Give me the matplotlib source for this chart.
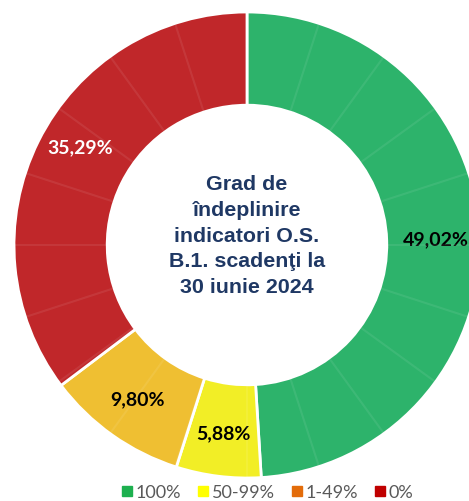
import matplotlib.pyplot as plt
from matplotlib.lines import Line2D
import numpy as np

# share of indicators per completion class
categories = ['100%', '50-99%', '1-49%', '0%']
shares = [49.02, 5.88, 9.80, 35.29]
wedge_colors = ['#2DB36B', '#F2EE26', '#EFBF32', '#C0272A']
legend_colors = ['#1DB04F', '#FFFF00', '#E36C0A', '#C00000']
label_colors = ['black', 'black', 'black', 'white']
title = 'Grad de\nîndeplinire\nindicatori O.S.\nB.1. scadenţi la\n30 iunie 2024'
n_ticks = 20  # faint separators round the ring

fig = plt.figure(figsize=(4.69, 5.02), dpi=100)
ax = fig.add_axes([0, 0, 1, 1])

cx, cy, R = 247, 502 - 246, 233
wedges, texts, autotexts = ax.pie(
    shares, colors=wedge_colors, startangle=90, counterclock=False,
    center=(cx, cy), radius=R, pctdistance=0.81,
    autopct=lambda p: f'{p:.2f}%'.replace('.', ','),
    wedgeprops=dict(width=R * 0.4, edgecolor='white', linewidth=2),
    textprops=dict(fontsize=14, fontweight='bold', family='Lato'))
for t, c in zip(autotexts, label_colors):
    t.set_color(c)
# the red label sits a bit higher in the original
x, y = autotexts[3].get_position()
autotexts[3].set_position((x + 2, y + 14))

# thin lighter separators every 18 degrees
for a in np.linspace(0, 2 * np.pi, n_ticks, endpoint=False):
    dx, dy = np.sin(a), np.cos(a)
    ax.plot([cx + 0.6 * R * dx, cx + R * dx], [cy + 0.6 * R * dy, cy + R * dy],
            color='white', alpha=0.08, lw=1.5, zorder=3)

ax.text(cx, 502 - 236, title, ha='center', va='center', fontsize=15.4,
        fontweight='bold', color='#1F3864', family='Liberation Sans',
        linespacing=1.45)

ax.set_xlim(0, 469)
ax.set_ylim(0, 502)
ax.set_aspect('equal')
ax.axis('off')

handles = [Line2D([], [], marker='s', linestyle='none', markersize=7.5,
                  markerfacecolor=c, markeredgecolor=c) for c in legend_colors]
fig.legend(handles, categories, loc='center', bbox_to_anchor=(267 / 469, 1 - 493 / 502),
           ncol=4, frameon=False, handletextpad=0.15, columnspacing=0.85,
           handlelength=0.7, prop=dict(family='Lato', size=13), labelcolor='#595959')

fig.savefig('out.png', dpi=100)
